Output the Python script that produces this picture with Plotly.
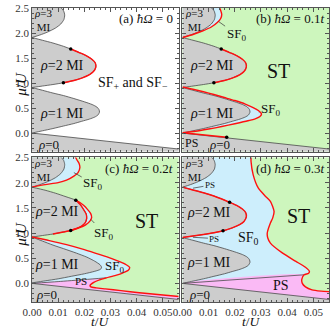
import plotly.graph_objects as go

# ---------------- data (t/U , mu/U) ----------------
x_ticks = [0.0, 0.01, 0.02, 0.03, 0.04, 0.05]
x_tick_text = ["0.00", "0.01", "0.02", "0.03", "0.04", "0.05"]
y_ticks = [0.0, 0.5, 1.0, 1.5, 2.0, 2.5]
y_tick_text = ["0.0", "0.5", "1.0", "1.5", "2.0", "2.5"]

# rho = 0 boundary and region
rho0_t = [0.0, 0.060]
rho0_mu = [0.0, -0.342]
rho0_fill_t = [0.0, 0.060, 0.060, 0.0]
rho0_fill_mu = [0.0, -0.342, -0.6, -0.6]

# Mott lobes (shared by panels a, b, d)
lobe1_t = [0.0, 0.004, 0.008, 0.012, 0.016, 0.019, 0.022, 0.024, 0.0252, 0.0258,
           0.0256, 0.0248, 0.023, 0.020, 0.016, 0.012, 0.008, 0.004, 0.0]
lobe1_mu = [0.0, 0.045, 0.09, 0.14, 0.19, 0.235, 0.28, 0.32, 0.36, 0.42,
            0.47, 0.52, 0.57, 0.625, 0.69, 0.75, 0.80, 0.855, 0.91]
lobe2_t = [0.0, 0.004, 0.008, 0.012, 0.016, 0.019, 0.022, 0.0235, 0.0244,
           0.0242, 0.023, 0.021, 0.018, 0.0148, 0.012, 0.008, 0.004, 0.0]
lobe2_mu = [0.91, 0.94, 0.97, 1.005, 1.05, 1.10, 1.17, 1.23, 1.32,
            1.40, 1.47, 1.54, 1.61, 1.68, 1.735, 1.80, 1.855, 1.91]
lobe3_t = [0.0, 0.003, 0.006, 0.009, 0.011, 0.0122, 0.0125, 0.0121, 0.0108, 0.008, 0.0]
lobe3_mu = [1.91, 1.96, 2.02, 2.10, 2.18, 2.27, 2.36, 2.44, 2.52, 2.60, 2.65]

# panel (a)
a_dot_t = [0.012, 0.0148]
a_dot_mu = [1.005, 1.68]

# panel (b)
b_sf3_t = [0.0, 0.004, 0.0076, 0.011, 0.0133, 0.0146, 0.015, 0.0146, 0.014, 0.0132, 0.0]
b_sf3_mu = [1.91, 1.97, 2.04, 2.12, 2.21, 2.29, 2.37, 2.45, 2.52, 2.60, 2.65]
b_sf1_t = [0.0, 0.004, 0.008, 0.012, 0.016, 0.020, 0.024, 0.027, 0.029, 0.0302,
           0.0296, 0.028, 0.025, 0.020, 0.015, 0.010, 0.005, 0.0]
b_sf1_mu = [0.92, 0.875, 0.825, 0.77, 0.71, 0.65, 0.58, 0.51, 0.45, 0.38,
            0.33, 0.29, 0.245, 0.185, 0.13, 0.08, 0.035, 0.005]
b_ps_t = [0.0, 0.0169]
b_ps_mu = [0.005, -0.085]
b_dot_t = [0.012, 0.0148, 0.0169]
b_dot_mu = [1.005, 1.68, -0.085]

# panel (c)
c_lobe1_t = [0.0, 0.005, 0.010, 0.015, 0.020, 0.024, 0.0262, 0.0266, 0.026,
             0.024, 0.021, 0.017, 0.012, 0.008, 0.004, 0.0]
c_lobe1_mu = [0.01, 0.05, 0.09, 0.14, 0.19, 0.24, 0.28, 0.32, 0.37,
              0.44, 0.52, 0.60, 0.69, 0.76, 0.84, 0.92]
c_lobe2_t = [0.0, 0.004, 0.008, 0.012, 0.0148, 0.017, 0.019, 0.0203, 0.0209,
             0.0207, 0.0198, 0.0185, 0.01675, 0.013, 0.009, 0.005, 0.0]
c_lobe2_mu = [0.92, 0.95, 0.98, 1.02, 1.05, 1.09, 1.14, 1.20, 1.29,
              1.38, 1.46, 1.56, 1.65, 1.72, 1.79, 1.85, 1.91]
c_sf2_t = [0.0148, 0.018, 0.0205, 0.0222, 0.0228, 0.0224, 0.0212, 0.0197, 0.0182, 0.01675]
c_sf2_mu = [1.05, 1.10, 1.16, 1.24, 1.31, 1.39, 1.47, 1.55, 1.61, 1.65]
c_sf3_t = [0.0, 0.005, 0.010, 0.0132, 0.016, 0.0176, 0.0183, 0.018, 0.0172, 0.0162, 0.0]
c_sf3_mu = [1.91, 1.96, 2.0, 2.05, 2.13, 2.2, 2.3, 2.38, 2.45, 2.55, 2.65]
c_red1_t = [0.0, 0.0066, 0.0132, 0.020, 0.026, 0.0305, 0.0335, 0.036, 0.0373, 0.0368,
            0.0348, 0.032, 0.0284, 0.0258, 0.0236, 0.0222, 0.0225, 0.0245, 0.028,
            0.034, 0.041, 0.049, 0.058]
c_red1_mu = [0.92, 0.85, 0.77, 0.67, 0.57, 0.49, 0.43, 0.37, 0.32, 0.26,
             0.21, 0.16, 0.11, 0.07, 0.02, -0.04, -0.07, -0.09, -0.11,
             -0.145, -0.185, -0.225, -0.27]
c_ps_top_t = [0.0, 0.010, 0.020, 0.0284]
c_ps_top_mu = [0.0, 0.035, 0.075, 0.11]
c_dot_t = [0.0148, 0.01675]
c_dot_mu = [1.05, 1.65]

# panel (d)
d_corner_t = [0.0]
d_corner_mu = [2.6]
d_red_t = [0.0262, 0.0262, 0.027, 0.029, 0.0315, 0.0336, 0.035, 0.0345, 0.0336, 0.0324,
           0.0326, 0.0336, 0.038, 0.0432, 0.047, 0.0485, 0.0482, 0.0465, 0.0456,
           0.0458, 0.047, 0.0495, 0.053, 0.058]
d_red_mu = [2.6, 2.42, 2.16, 1.89, 1.74, 1.63, 1.43, 1.30, 1.20, 1.00,
            0.90, 0.80, 0.61, 0.44, 0.32, 0.24, 0.20, 0.17, 0.08,
            0.0, -0.07, -0.13, -0.155, -0.17]
d_ps_top_t = [0.0, 0.0465]
d_ps_top_mu = [0.0, 0.17]
d_dot_t = [0.018, 0.0155]
d_dot_mu = [1.61, 1.045]

# ---------------- style ----------------
GRAY = "#cdcdcd"
GREEN = "#cdf6bd"
CYAN = "#cdeefc"
PINK = "#fabaf5"
RED = "#ff1010"
LINE = "#4a4a4a"
FONT = "Liberation Serif"

fig = go.Figure()


def axn(p):
    return ("x" if p == 1 else f"x{p}", "y" if p == 1 else f"y{p}")


def fill(p, t, mu, color, line_color=None, width=0.0, shape="spline"):
    xa, ya = axn(p)
    fig.add_trace(go.Scatter(
        x=t, y=mu, xaxis=xa, yaxis=ya, mode="lines", fill="toself",
        fillcolor=color,
        line=dict(color=line_color or color, width=width, shape=shape,
                  smoothing=0.6),
        hoverinfo="skip", showlegend=False))


def line(p, t, mu, color, width, shape="spline"):
    xa, ya = axn(p)
    fig.add_trace(go.Scatter(
        x=t, y=mu, xaxis=xa, yaxis=ya, mode="lines",
        line=dict(color=color, width=width, shape=shape, smoothing=0.6),
        hoverinfo="skip", showlegend=False))


def dots(p, t, mu):
    xa, ya = axn(p)
    fig.add_trace(go.Scatter(
        x=t, y=mu, xaxis=xa, yaxis=ya, mode="markers",
        marker=dict(color="black", size=3.5),
        hoverinfo="skip", showlegend=False))


def lobes(p, l1t, l1m, l2t, l2m):
    fill(p, rho0_fill_t, rho0_fill_mu, GRAY, shape="linear")
    line(p, rho0_t, rho0_mu, LINE, 0.8, shape="linear")
    fill(p, l1t, l1m, GRAY, LINE, 0.8)
    fill(p, l2t, l2m, GRAY, LINE, 0.8)
    fill(p, lobe3_t, lobe3_mu, GRAY, LINE, 0.8)


# ---- panel (a)
lobes(1, lobe1_t, lobe1_mu, lobe2_t, lobe2_mu)
line(1, lobe2_t[3:14], lobe2_mu[3:14], RED, 1.4)
dots(1, a_dot_t, a_dot_mu)

# ---- panel (b)
fill(2, b_sf3_t, b_sf3_mu, CYAN)
fill(2, b_sf1_t, b_sf1_mu, CYAN)
lobes(2, lobe1_t, lobe1_mu, lobe2_t, lobe2_mu)
line(2, b_sf3_t[:-1], b_sf3_mu[:-1], RED, 1.4)
line(2, b_sf1_t, b_sf1_mu, RED, 1.4)
line(2, lobe2_t[3:14], lobe2_mu[3:14], RED, 1.4)
line(2, b_ps_t, b_ps_mu, RED, 1.4, shape="linear")
dots(2, b_dot_t, b_dot_mu)

# ---- panel (c)
fill(3, c_sf3_t, c_sf3_mu, CYAN)
fill(3, c_sf2_t, c_sf2_mu, CYAN)
fill(3, c_red1_t[:13] + c_ps_top_t[::-1][1:], c_red1_mu[:13] + c_ps_top_mu[::-1][1:], CYAN)
fill(3, c_ps_top_t + c_red1_t[13:] + rho0_t[::-1],
     c_ps_top_mu + c_red1_mu[13:] + rho0_mu[::-1], PINK)
lobes(3, c_lobe1_t, c_lobe1_mu, c_lobe2_t, c_lobe2_mu)
line(3, c_ps_top_t, c_ps_top_mu, LINE, 0.8)
line(3, c_sf3_t[:-1], c_sf3_mu[:-1], RED, 1.4)
line(3, c_sf2_t, c_sf2_mu, RED, 1.4)
line(3, c_lobe2_t[2:13], c_lobe2_mu[2:13], RED, 1.4)
line(3, c_red1_t, c_red1_mu, RED, 1.4)
dots(3, c_dot_t, c_dot_mu)

# ---- panel (d)
fill(4, d_corner_t + d_red_t[:18] + d_ps_top_t[::-1][1:],
     d_corner_mu + d_red_mu[:18] + d_ps_top_mu[::-1][1:], CYAN)
fill(4, d_ps_top_t + d_red_t[18:] + rho0_t[::-1],
     d_ps_top_mu + d_red_mu[18:] + rho0_mu[::-1], PINK)
lobes(4, lobe1_t, lobe1_mu, lobe2_t, lobe2_mu)
line(4, d_ps_top_t, d_ps_top_mu, LINE, 0.8, shape="linear")
line(4, lobe2_t, lobe2_mu, RED, 1.4)
line(4, d_red_t, d_red_mu, RED, 1.4)
dots(4, d_dot_t, d_dot_mu)

# ---------------- layout ----------------
XD = [[0.0, 0.4933], [0.5067, 1.0]]
YD = [[0.5117, 1.0], [0.0, 0.4916]]
panels = {1: (0, 0), 2: (1, 0), 3: (0, 1), 4: (1, 1)}

layout = dict(
    width=332, height=329,
    margin=dict(l=32, r=2, t=3, b=27),
    paper_bgcolor="white", plot_bgcolor="white",
    font=dict(family=FONT, size=11, color="#222"),
    showlegend=False,
)
shapes = []
for p, (cx, cy) in panels.items():
    xs = "xaxis" if p == 1 else f"xaxis{p}"
    ys = "yaxis" if p == 1 else f"yaxis{p}"
    xa, ya = axn(p)
    common = dict(showline=True, linecolor="#555", linewidth=0.8, mirror="allticks",
                  ticks="inside", ticklen=4, tickwidth=0.7, tickcolor="#555",
                  showgrid=False, zeroline=False,
                  tickfont=dict(family=FONT, size=11, color="#333"))
    layout[xs] = dict(common, domain=XD[cx], anchor=ya, range=[0.0, 0.056],
                      tickvals=x_ticks, ticktext=x_tick_text,
                      showticklabels=(cy == 1),
                      minor=dict(ticks="inside", ticklen=2, dtick=0.002,
                                 tickcolor="#555", tickwidth=0.6))
    layout[ys] = dict(common, domain=YD[cy], anchor=xa, range=[-0.37, 2.5],
                      tickvals=y_ticks, ticktext=y_tick_text,
                      showticklabels=(cx == 0),
                      minor=dict(ticks="inside", ticklen=2, dtick=0.1,
                                 tickcolor="#555", tickwidth=0.6))
    if p != 1:
        shapes.append(dict(type="rect", xref=f"{xa} domain", yref=f"{ya} domain",
                           x0=0, x1=1, y0=0, y1=1, fillcolor=GREEN,
                           line=dict(width=0), layer="below"))
layout["shapes"] = shapes
fig.update_layout(**layout)

anns = []


def ann(p, t, mu, text, size=13, **kw):
    xa, ya = axn(p)
    d = dict(x=t, y=mu, xref=xa, yref=ya, text=text, showarrow=False,
             font=dict(family=FONT, size=size, color="#111"))
    d.update(kw)
    anns.append(d)


def lead(p, t, mu, tt, tm, text, size=13):
    xa, ya = axn(p)
    anns.append(dict(x=tt, y=tm, ax=t, ay=mu, xref=xa, yref=ya, axref=xa, ayref=ya,
                     text=text, showarrow=True, arrowhead=0, arrowwidth=0.7,
                     arrowcolor="#333", standoff=0, startstandoff=0,
                     font=dict(family=FONT, size=size, color="#111")))


titles = {1: "(a) <i>ħΩ</i> = 0", 2: "(b) <i>ħΩ</i> = 0.1<i>t</i>",
          3: "(c) <i>ħΩ</i> = 0.2<i>t</i>", 4: "(d) <i>ħΩ</i> = 0.3<i>t</i>"}
rho0_pos = {1: 0.0062, 2: 0.0140, 3: 0.0055, 4: 0.0064}
for p in range(1, 5):
    ann(p, 0.0548, 2.29, titles[p], 13, xanchor="right")
    ann(p, 0.0043, 2.26, "<i>ρ</i>=3<br>MI", 11, borderpad=0)
    ann(p, rho0_pos[p], -0.22, "<i>ρ</i>=0", 13)

ann(1, 0.0115, 1.35, "<i>ρ</i>=2 MI", 14)
ann(1, 0.0113, 0.40, "<i>ρ</i>=1 MI", 14)
ann(1, 0.0385, 0.99, "SF<sub>+</sub> and SF<sub>−</sub>", 14)

ann(2, 0.0113, 1.35, "<i>ρ</i>=2 MI", 14)
ann(2, 0.0113, 0.40, "<i>ρ</i>=1 MI", 14)
ann(2, 0.0368, 1.25, "ST", 20)
lead(2, 0.0205, 1.98, 0.0138, 2.23, "SF<sub>0</sub>")
lead(2, 0.0335, 0.47, 0.0292, 0.41, "SF<sub>0</sub>")
lead(2, 0.0036, -0.19, 0.0008, -0.005, "PS", 12)

ann(3, 0.0094, 1.42, "<i>ρ</i>=2 MI", 14)
ann(3, 0.0094, 0.38, "<i>ρ</i>=1 MI", 14)
ann(3, 0.0437, 1.23, "ST", 20)
lead(3, 0.0232, 1.99, 0.016, 2.2, "SF<sub>0</sub>")
lead(3, 0.0275, 1.0, 0.0225, 1.27, "SF<sub>0</sub>")
ann(3, 0.0316, 0.34, "SF<sub>0</sub>", 13)
ann(3, 0.0189, 0.045, "PS", 11)

ann(4, 0.0102, 1.40, "<i>ρ</i>=2 MI", 14)
ann(4, 0.0102, 0.41, "<i>ρ</i>=1 MI", 14)
ann(4, 0.0444, 1.33, "ST", 20)
ann(4, 0.0254, 0.90, "SF<sub>0</sub>", 14)
ann(4, 0.0375, -0.05, "PS", 14)
lead(4, 0.0105, 1.95, 0.004, 1.89, "PS", 9)
lead(4, 0.0122, 0.89, 0.004, 0.915, "PS", 9)

# axis titles
for ya in ["y", "y3"]:
    anns.append(dict(x=-0.072, xref="paper", y=0.47, yref=f"{ya} domain",
                     text="<i>μ</i>/<i>U</i>", textangle=-90, showarrow=False,
                     font=dict(family=FONT, size=15, color="#111")))
for xa in ["x3", "x4"]:
    anns.append(dict(x=0.47, xref=f"{xa} domain", y=-0.066, yref="paper",
                     text="<i>t</i>/<i>U</i>", showarrow=False, yanchor="middle",
                     borderpad=0,
                     font=dict(family=FONT, size=13.5, color="#111")))

fig.update_layout(annotations=anns)
fig.write_html("out.html",
               config={"displayModeBar": False},
               post_script="document.body.style.margin='0';"
                           "document.body.style.overflow='hidden';")
